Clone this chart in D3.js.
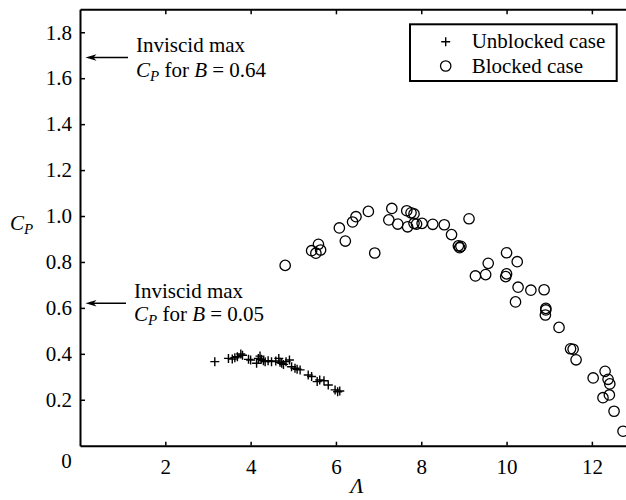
<!DOCTYPE html>
<html>
<head>
<meta charset="utf-8">
<script src="https://cdn.jsdelivr.net/npm/d3@7"></script>
<style>
  body { margin: 0; background: #fff; }
  svg { display: block; }
  svg text { font-family: "Liberation Serif", "Times New Roman", serif; }
</style>
</head>
<body>
<div id="chart"></div>
<script>
// unblocked case: lambda, Cp
var unblockedL = [3.16, 3.48, 3.57, 3.63, 3.69, 3.77, 3.81, 3.95, 4.0, 4.14, 4.18, 4.22, 4.25, 4.30, 4.34, 4.41, 4.49, 4.59, 4.66, 4.69, 4.73, 4.77, 4.83, 4.91, 4.96, 5.04, 5.09, 5.16, 5.35, 5.43, 5.56, 5.62, 5.72, 5.82, 5.98, 6.04, 6.09]
var unblockedCp = [0.366, 0.380, 0.377, 0.383, 0.387, 0.399, 0.394, 0.376, 0.373, 0.359, 0.380, 0.390, 0.376, 0.370, 0.366, 0.370, 0.366, 0.369, 0.380, 0.363, 0.359, 0.354, 0.366, 0.373, 0.344, 0.337, 0.333, 0.330, 0.308, 0.301, 0.279, 0.286, 0.283, 0.264, 0.243, 0.235, 0.238]

// blocked case
var blockedL = [4.81, 5.43, 5.59, 5.53, 5.64, 6.08, 6.22, 6.39, 6.47, 6.76, 6.91, 7.24, 7.31, 7.45, 7.66, 7.68, 7.76, 7.83, 7.83, 7.89, 8.02, 8.27, 8.54, 8.71, 9.12, 8.87, 8.90, 8.93, 9.57, 9.27, 9.51, 10.0, 10.25, 10.0, 9.98, 10.27, 10.57, 10.88, 10.21, 10.92, 10.92, 10.91, 11.23, 11.50, 11.56, 11.63, 12.03, 12.31, 12.38, 12.42, 12.41, 12.26, 12.52, 12.73]
var blockedCp = [0.785, 0.849, 0.877, 0.838, 0.852, 0.948, 0.891, 0.974, 0.997, 1.020, 0.839, 0.983, 1.033, 0.965, 1.023, 0.953, 1.014, 1.009, 0.968, 0.965, 0.968, 0.964, 0.962, 0.919, 0.988, 0.870, 0.862, 0.868, 0.794, 0.739, 0.745, 0.840, 0.801, 0.748, 0.736, 0.690, 0.677, 0.679, 0.626, 0.598, 0.591, 0.569, 0.515, 0.422, 0.420, 0.374, 0.295, 0.324, 0.289, 0.269, 0.221, 0.209, 0.150, 0.063]

var xTicks = [2, 4, 6, 8, 10, 12]
var yTicks = [0.2, 0.4, 0.6, 0.8, 1.0, 1.2, 1.4, 1.6, 1.8]

// inviscid max Cp markers
var inviscidB = ["0.64", "0.05"]
var inviscidCp = [1.69, 0.62]

var legendLabels = ["Unblocked case", "Blocked case"]

var width = 626
var height = 500
var serif = "Liberation Serif, Times New Roman, serif"

var x = d3.scaleLinear().domain([0, 12.8]).range([80, 626])
var y = d3.scaleLinear().domain([0, 1.9]).range([445.7, 9.3])

var svg = d3.select("#chart")
    .append("svg")
    .attr("width", width)
    .attr("height", height)
    .attr("font-family", serif)

// axes
var bottom = svg.append("g")
    .attr("transform", "translate(0," + y(0) + ")")
    .call(d3.axisBottom(x).tickValues(xTicks).tickSizeInner(-4).tickSizeOuter(0).tickPadding(8).tickFormat(d3.format("d")))
var top = svg.append("g")
    .attr("transform", "translate(0," + y(1.9) + ")")
    .call(d3.axisTop(x).tickValues(xTicks).tickSizeInner(-5).tickSizeOuter(0).tickFormat(""))
var left = svg.append("g")
    .attr("transform", "translate(" + x(0) + ",0)")
    .call(d3.axisLeft(y).tickValues(yTicks).tickSizeInner(-5).tickSizeOuter(0).tickPadding(8).tickFormat(d3.format(".1f")))

svg.selectAll("g").attr("font-family", serif).attr("font-size", 21)
svg.selectAll(".domain").attr("stroke", "#000").attr("stroke-width", 2)
svg.selectAll(".tick line").attr("stroke", "#000").attr("stroke-width", 1.5)
svg.selectAll(".tick text").attr("fill", "#000")
bottom.selectAll(".tick text").attr("dy", "0.95em")

svg.append("text")
    .attr("x", 66.5).attr("y", 468)
    .attr("text-anchor", "middle")
    .attr("font-size", 21)
    .text("0")

// axis titles
var ylab = svg.append("text").attr("x", 10).attr("y", 230).attr("font-size", 21)
ylab.append("tspan").attr("font-style", "italic").text("C")
ylab.append("tspan").attr("font-style", "italic").attr("font-size", 15).attr("dy", 4).text("P")

svg.append("text")
    .attr("x", 357).attr("y", 493)
    .attr("text-anchor", "middle")
    .attr("font-size", 22)
    .attr("font-style", "italic")
    .text("Λ")

// data
svg.append("g")
    .selectAll("circle")
    .data(blockedL)
    .join("circle")
    .attr("cx", d => x(d))
    .attr("cy", (d, i) => y(blockedCp[i]))
    .attr("r", 5.2)
    .attr("fill", "none")
    .attr("stroke", "#000")
    .attr("stroke-width", 1.3)

svg.append("g")
    .selectAll("path")
    .data(unblockedL)
    .join("path")
    .attr("transform", (d, i) => "translate(" + x(d) + "," + y(unblockedCp[i]) + ")")
    .attr("d", "M-4.5,0H4.5M0,-4.5V4.5")
    .attr("stroke", "#000")
    .attr("stroke-width", 1.4)

// annotations
var annX = [136, 134]
var lineGap = [25, 23.4]
inviscidCp.forEach(function (v, i) {
    var yy = y(v)
    svg.append("line")
        .attr("x1", annX[i] - 8).attr("x2", 92)
        .attr("y1", yy).attr("y2", yy)
        .attr("stroke", "#000").attr("stroke-width", 1.5)
    svg.append("path")
        .attr("transform", "translate(85.5," + yy + ")")
        .attr("d", "M0,0L11,-3.2L8,0L11,3.2Z")
        .attr("fill", "#000")
    var t1 = svg.append("text")
        .attr("x", annX[i]).attr("y", yy - 5.4)
        .attr("font-size", 21)
        .text("Inviscid max")
    var t2 = svg.append("text")
        .attr("x", annX[i]).attr("y", yy - 5.4 + lineGap[i])
        .attr("font-size", 21)
    t2.append("tspan").attr("font-style", "italic").text("C")
    t2.append("tspan").attr("font-style", "italic").attr("font-size", 15).attr("dy", 4).text("P")
    t2.append("tspan").attr("dy", -4).text(" for ")
    t2.append("tspan").attr("font-style", "italic").text("B")
    t2.append("tspan").text(" = " + inviscidB[i])
})

// legend
var lg = svg.append("g")
lg.append("rect")
    .attr("x", 410).attr("y", 24.3)
    .attr("width", 206.7).attr("height", 56.7)
    .attr("fill", "#fff").attr("stroke", "#000").attr("stroke-width", 2)
lg.append("path")
    .attr("transform", "translate(445.7,41.7)")
    .attr("d", "M-4.5,0H4.5M0,-4.5V4.5")
    .attr("stroke", "#000").attr("stroke-width", 1.4)
lg.append("circle")
    .attr("cx", 445.7).attr("cy", 66).attr("r", 5.2)
    .attr("fill", "none").attr("stroke", "#000").attr("stroke-width", 1.3)
lg.selectAll("text")
    .data(legendLabels)
    .join("text")
    .attr("x", 471.7)
    .attr("y", (d, i) => 48.3 + i * 24.5)
    .attr("font-size", 21)
    .text(d => d)
</script>
</body>
</html>
